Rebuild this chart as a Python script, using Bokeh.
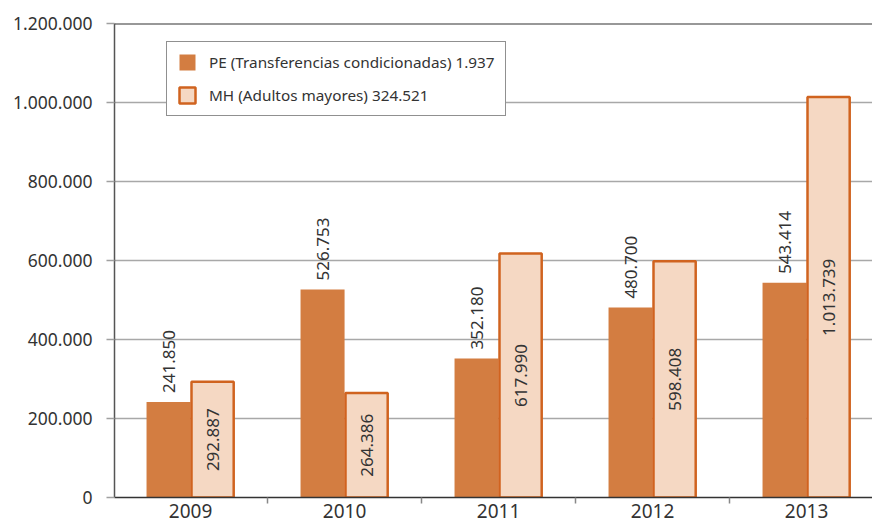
import math
from bokeh.plotting import figure
from bokeh.models import (ColumnDataSource, FixedTicker, Legend, LegendItem, Span, Range1d)
from bokeh.core.properties import value
from bokeh.transform import dodge
from bokeh.embed import file_html
from bokeh.resources import INLINE

years = ["2009", "2010", "2011", "2012", "2013"]
pe_values = [241850, 526753, 352180, 480700, 543414]
mh_values = [292887, 264386, 617990, 598408, 1013739]
pe_label = "PE (Transferencias condicionadas) 1.937"
mh_label = "MH (Adultos mayores) 324.521"
y_ticks = [0, 200000, 400000, 600000, 800000, 1000000, 1200000]


def fmt(v):
    return f"{v:,}".replace(",", ".")


FONT = "Noto Sans"
TXT = "#333333"
PE_FILL = "#D37D41"
MH_FILL = "#F5D8C3"
MH_LINE = "#D0631F"

xs = list(range(len(years)))
src = ColumnDataSource(dict(
    x=xs,
    pe=pe_values,
    mh=mh_values,
    mh_half=[v / 2 for v in mh_values],
    pe_txt=[fmt(v) for v in pe_values],
    mh_txt=[fmt(v) for v in mh_values],
))

x_start = -0.494
p = figure(width=872, height=525, output_backend="svg", toolbar_location=None,
           x_range=Range1d(x_start, x_start + 758 / 154), y_range=Range1d(0, 1200000),
           min_border_left=114, min_border_right=0, min_border_top=23, min_border_bottom=28)
p.outline_line_color = None
p.background_fill_color = "white"

bw = 0.286
r_pe = p.vbar(x=dodge("x", -bw / 2, range=p.x_range), top="pe", width=bw, source=src,
              fill_color=PE_FILL, line_color=None)
r_mh = p.vbar(x=dodge("x", bw / 2, range=p.x_range), top="mh", width=bw - 0.012, source=src,
              fill_color=MH_FILL, line_color=MH_LINE, line_width=2.5)

p.text(x=dodge("x", -bw / 2, range=p.x_range), y="pe", text="pe_txt", source=src,
       angle=math.pi / 2, text_align="left", text_baseline="middle", y_offset=-9,
       text_font=value(FONT), text_font_size="17px", text_color=TXT)
p.text(x=dodge("x", bw / 2, range=p.x_range), y="mh_half", text="mh_txt", source=src,
       angle=math.pi / 2, text_align="center", text_baseline="middle",
       text_font=value(FONT), text_font_size="17px", text_color=TXT)

# top border
p.add_layout(Span(location=1200000, dimension="width", line_color="#333333", line_width=2))

# axes
p.yaxis.ticker = FixedTicker(ticks=y_ticks)
p.yaxis.major_label_overrides = {t: fmt(t) for t in y_ticks}
p.yaxis.major_label_text_font = FONT
p.yaxis.major_label_text_font_size = "17.5px"
p.yaxis.major_label_text_color = TXT
p.yaxis.major_label_standoff = 14
p.yaxis.major_tick_out = 8
p.yaxis.major_tick_in = 0
p.yaxis.major_tick_line_color = "#A0A0A0"
p.yaxis.major_tick_line_width = 1.5
p.yaxis.minor_tick_line_color = None
p.yaxis.axis_line_color = "#555555"
p.yaxis.axis_line_width = 1.5

p.xaxis.ticker = FixedTicker(ticks=xs, minor_ticks=[i - 0.5 for i in range(len(years) + 1)])
p.xaxis.major_label_overrides = {i: y for i, y in enumerate(years)}
p.xaxis.major_label_text_font = FONT
p.xaxis.major_label_text_font_size = "19px"
p.xaxis.major_label_text_color = TXT
p.xaxis.major_label_standoff = 0
p.xaxis.major_tick_line_color = None
p.xaxis.major_tick_out = 0
p.xaxis.major_tick_in = 0
p.xaxis.minor_tick_in = 0
p.xaxis.minor_tick_out = 6
p.xaxis.minor_tick_line_color = "#888888"
p.xaxis.minor_tick_line_width = 1.5
p.xaxis.axis_line_color = "#333333"
p.xaxis.axis_line_width = 1.5

p.xgrid.grid_line_color = None
p.ygrid.grid_line_color = "#A8A8A8"
p.ygrid.grid_line_width = 1.5

legend = Legend(items=[LegendItem(label=pe_label, renderers=[r_pe]),
                       LegendItem(label=mh_label, renderers=[r_mh])],
                location=(52, 381), orientation="vertical")
legend.label_text_font = FONT
legend.label_text_font_size = "15.3px"
legend.label_text_color = TXT
legend.glyph_width = 20
legend.glyph_height = 20
legend.label_standoff = 12
legend.padding = 10
legend.spacing = 13
legend.margin = 0
legend.border_line_color = "#222222"
legend.border_line_width = 1.5
legend.background_fill_alpha = 1
p.add_layout(legend)

open("out.html", "w").write(file_html(p, INLINE))
